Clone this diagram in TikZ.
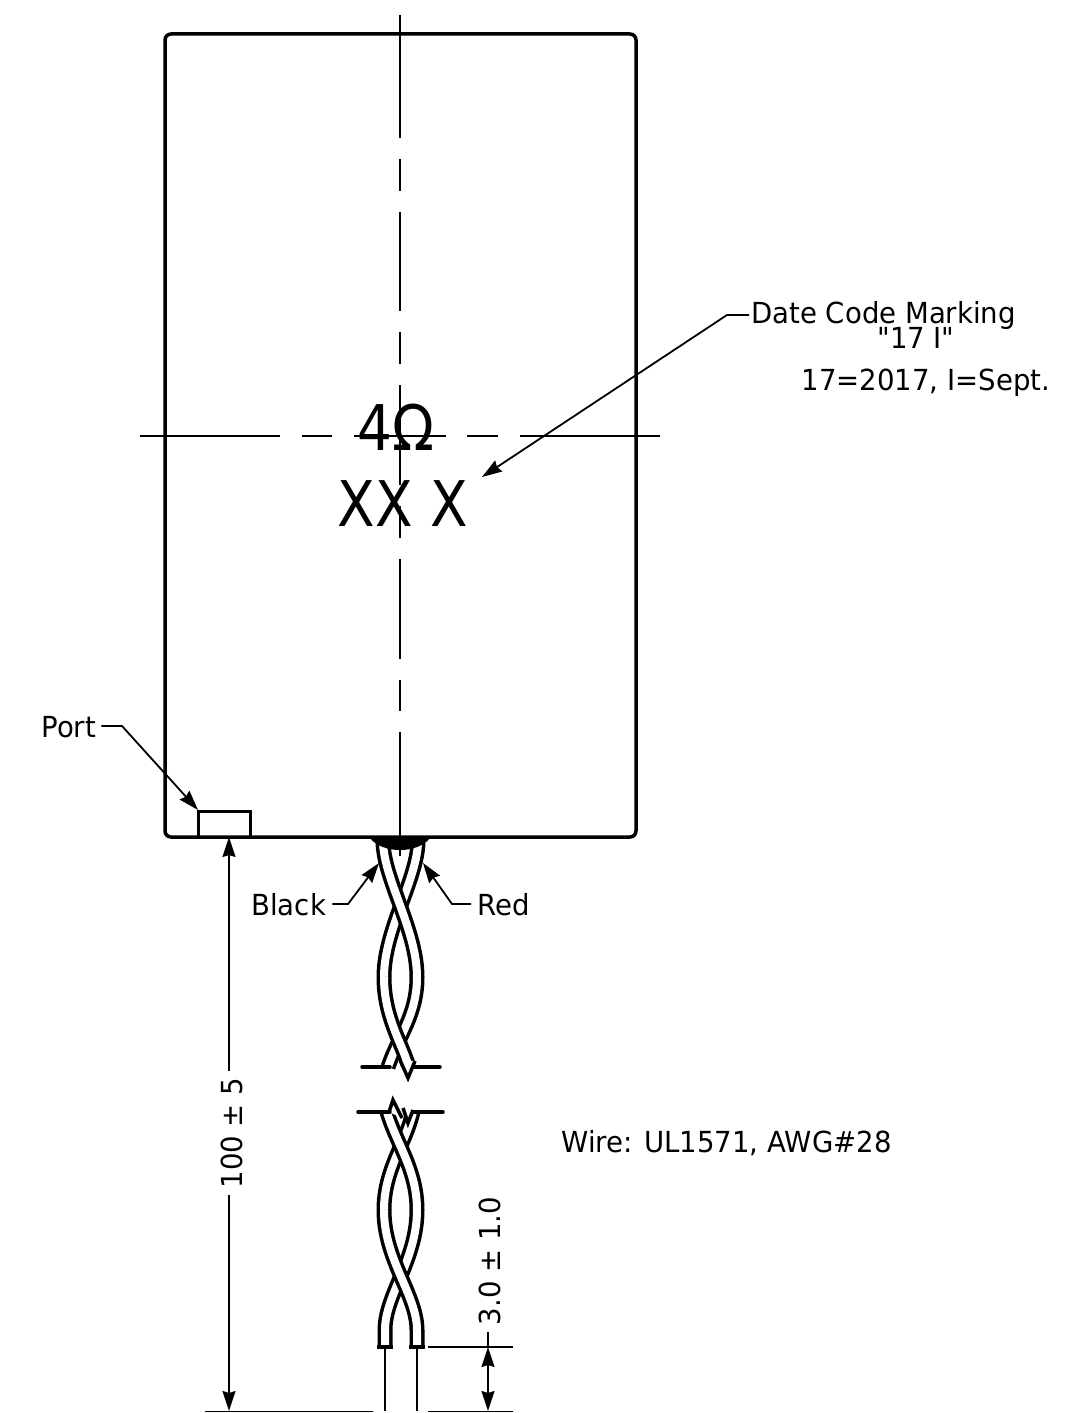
\documentclass[tikz,border=0pt]{standalone}
\usepackage{fontspec}
\setmainfont[FakeStretch=0.95, Ligatures=TeXOff]{DejaVu Sans}
\newfontfamily\markfont[FakeStretch=0.87]{DejaVu Sans}
\usetikzlibrary{arrows.meta}
\tikzset{
	outline/.style={line width=1.75pt, line join=round},
	thinline/.style={line width=0.9pt},
	centerline/.style={line width=0.9pt},
	leader/.style={line width=0.9pt, ->},
	dimline/.style={line width=0.9pt, ->},
	wire/.style={double, double distance=4pt, line width=1.75pt},
	wirecut/.style={line width=1.75pt, fill=white, miter limit=10},
	breakline/.style={line width=1.75pt, line cap=round},
	smalltext/.style={inner sep=0pt, font=\fontsize{14.5}{16}\selectfont},
	bigtext/.style={inner sep=0pt, font=\markfont\fontsize{31.5}{34}\selectfont},
}
\begin{document}
\begin{tikzpicture}[x=0.5pt, y=-0.5pt, >={Stealth[length=10pt,width=6.5pt,inset=1pt]}]
		%%%%% START %%%%%
		\useasboundingbox (0, 0) rectangle (1082, 1413);

		% center lines
		\foreach \a/\b in {15/138, 159/191, 212/311, 332/364, 385/485, 506/538, 559/659, 680/711, 732/856}
			\draw[centerline] (400, \a) -- (400, \b);
		\foreach \a/\b in {140/280, 302/332, 354/446, 467/498, 520/660}
			\draw[centerline] (\a, 436) -- (\b, 436);

		% housing and port
		\draw[outline, rounded corners=3pt] (165, 34) rectangle (636, 837);
		\draw[line width=1.5pt] (198, 837) -- (198, 811) -- (250, 811) -- (250, 837);

		% marking
		\node[bigtext, anchor=base] (ohmText) at (396, 450) {4Ω};
		\node[bigtext, anchor=base] (codeText) at (403, 526) {XX X};

		% upper twist
		\draw[wire] (418, 842) .. controls (417, 880) and (384, 930) .. (384, 977);
		\draw[wire] (383, 842) .. controls (384, 880) and (417, 930) .. (417, 977)
			.. controls (417, 1015) and (399, 1035) .. (388, 1067);
		\draw[wire] (384, 977) .. controls (384, 1015) and (400, 1040) .. (408, 1064);
		\draw[wirecut] (400, 1060) -- (408, 1078) -- (415, 1061);
		\draw[breakline] (362, 1067) -- (390, 1067);
		\draw[breakline] (414, 1067) -- (440, 1067);
		\fill (370, 838) -- (430, 838) .. controls (418, 854) and (382, 854) .. (370, 838) -- cycle;

		% lower twist
		\draw[wire] (413, 1112) .. controls (405, 1145) and (384, 1170) .. (384, 1210);
		\draw[wirecut] (403, 1108) -- (408, 1123) -- (413, 1110);
		\draw[wire] (387, 1112) .. controls (397, 1145) and (417, 1170) .. (417, 1210)
			.. controls (417, 1260) and (385, 1295) .. (385, 1330) -- (385, 1347);
		\draw[wirecut] (389, 1112) -- (393, 1100) -- (402, 1118);
		\draw[wire] (384, 1210) .. controls (384, 1260) and (417, 1295) .. (417, 1330) -- (417, 1347);
		\draw[breakline] (358, 1112) -- (390, 1112);
		\draw[breakline] (413, 1112) -- (443, 1112);
		\draw[line width=1.75pt] (377, 1347) -- (393, 1347);
		\draw[line width=1.75pt] (409, 1347) -- (425, 1347);

		% extension lines
		\draw[thinline] (385, 1347) -- (385, 1411);
		\draw[thinline] (417, 1347) -- (417, 1411);
		\draw[thinline] (428, 1347) -- (513, 1347);
		\draw[thinline] (205, 1411.5) -- (373, 1411.5);
		\draw[thinline] (428, 1411.5) -- (513, 1411.5);

		% labels with leaders
		\coordinate (portElbow) at (122, 726);
		\coordinate (portTip) at (198, 810);
		\node[smalltext, anchor=base west] (portLabel) at (41, 737) {Port};
		\draw[leader, shorten <=2.5pt] (portLabel.east |- portElbow) -- (portElbow) -- (portTip);

		\coordinate (blackElbow) at (348, 904);
		\coordinate (blackTip) at (379, 863);
		\node[smalltext, anchor=base west] (blackLabel) at (251, 915) {Black};
		\draw[leader, shorten <=3pt] (blackLabel.east |- blackElbow) -- (blackElbow) -- (blackTip);

		\coordinate (redElbow) at (452, 904);
		\coordinate (redTip) at (423, 863);
		\node[smalltext, anchor=base west] (redLabel) at (477, 915) {Red};
		\draw[leader, shorten <=3pt] (redLabel.west |- redElbow) -- (redElbow) -- (redTip);

		\coordinate (dateElbow) at (727, 315);
		\coordinate (dateTip) at (482, 477);
		\node[smalltext, anchor=base west] (dateLabel) at (751, 323) {Date Code Marking};
		\draw[leader, shorten <=1pt] (dateLabel.west |- dateElbow) -- (dateElbow) -- (dateTip);
		\node[smalltext, anchor=base] (dateValue) at (916, 348) {"17 I"};
		\node[smalltext, anchor=base] (dateKey) at (926, 390) {17=2017, I=Sept.};
		\node[smalltext, anchor=base west] (wireLabel) at (561, 1152) {Wire: UL1571, AWG\#28};

		% dimensions
		\coordinate (lengthTop) at (229, 837);
		\coordinate (lengthBottom) at (229, 1411);
		\node[smalltext, rotate=90, anchor=base] (lengthText) at (242, 1133) {100 ± 5};
		\draw[dimline, shorten <=3pt] (lengthTop |- lengthText.east) -- (lengthTop);
		\draw[dimline, shorten <=3pt] (lengthTop |- lengthText.west) -- (lengthBottom);

		\coordinate (pitchTop) at (488, 1347);
		\coordinate (pitchBottom) at (488, 1411);
		\node[smalltext, rotate=90, anchor=base] (pitchText) at (500, 1261) {3.0 ± 1.0};
		\draw[thinline, shorten <=3pt] (pitchTop |- pitchText.west) -- (pitchTop);
		\draw[dimline, <->] (pitchTop) -- (pitchBottom);
		%%%%% END %%%%%
\end{tikzpicture}
\end{document}
